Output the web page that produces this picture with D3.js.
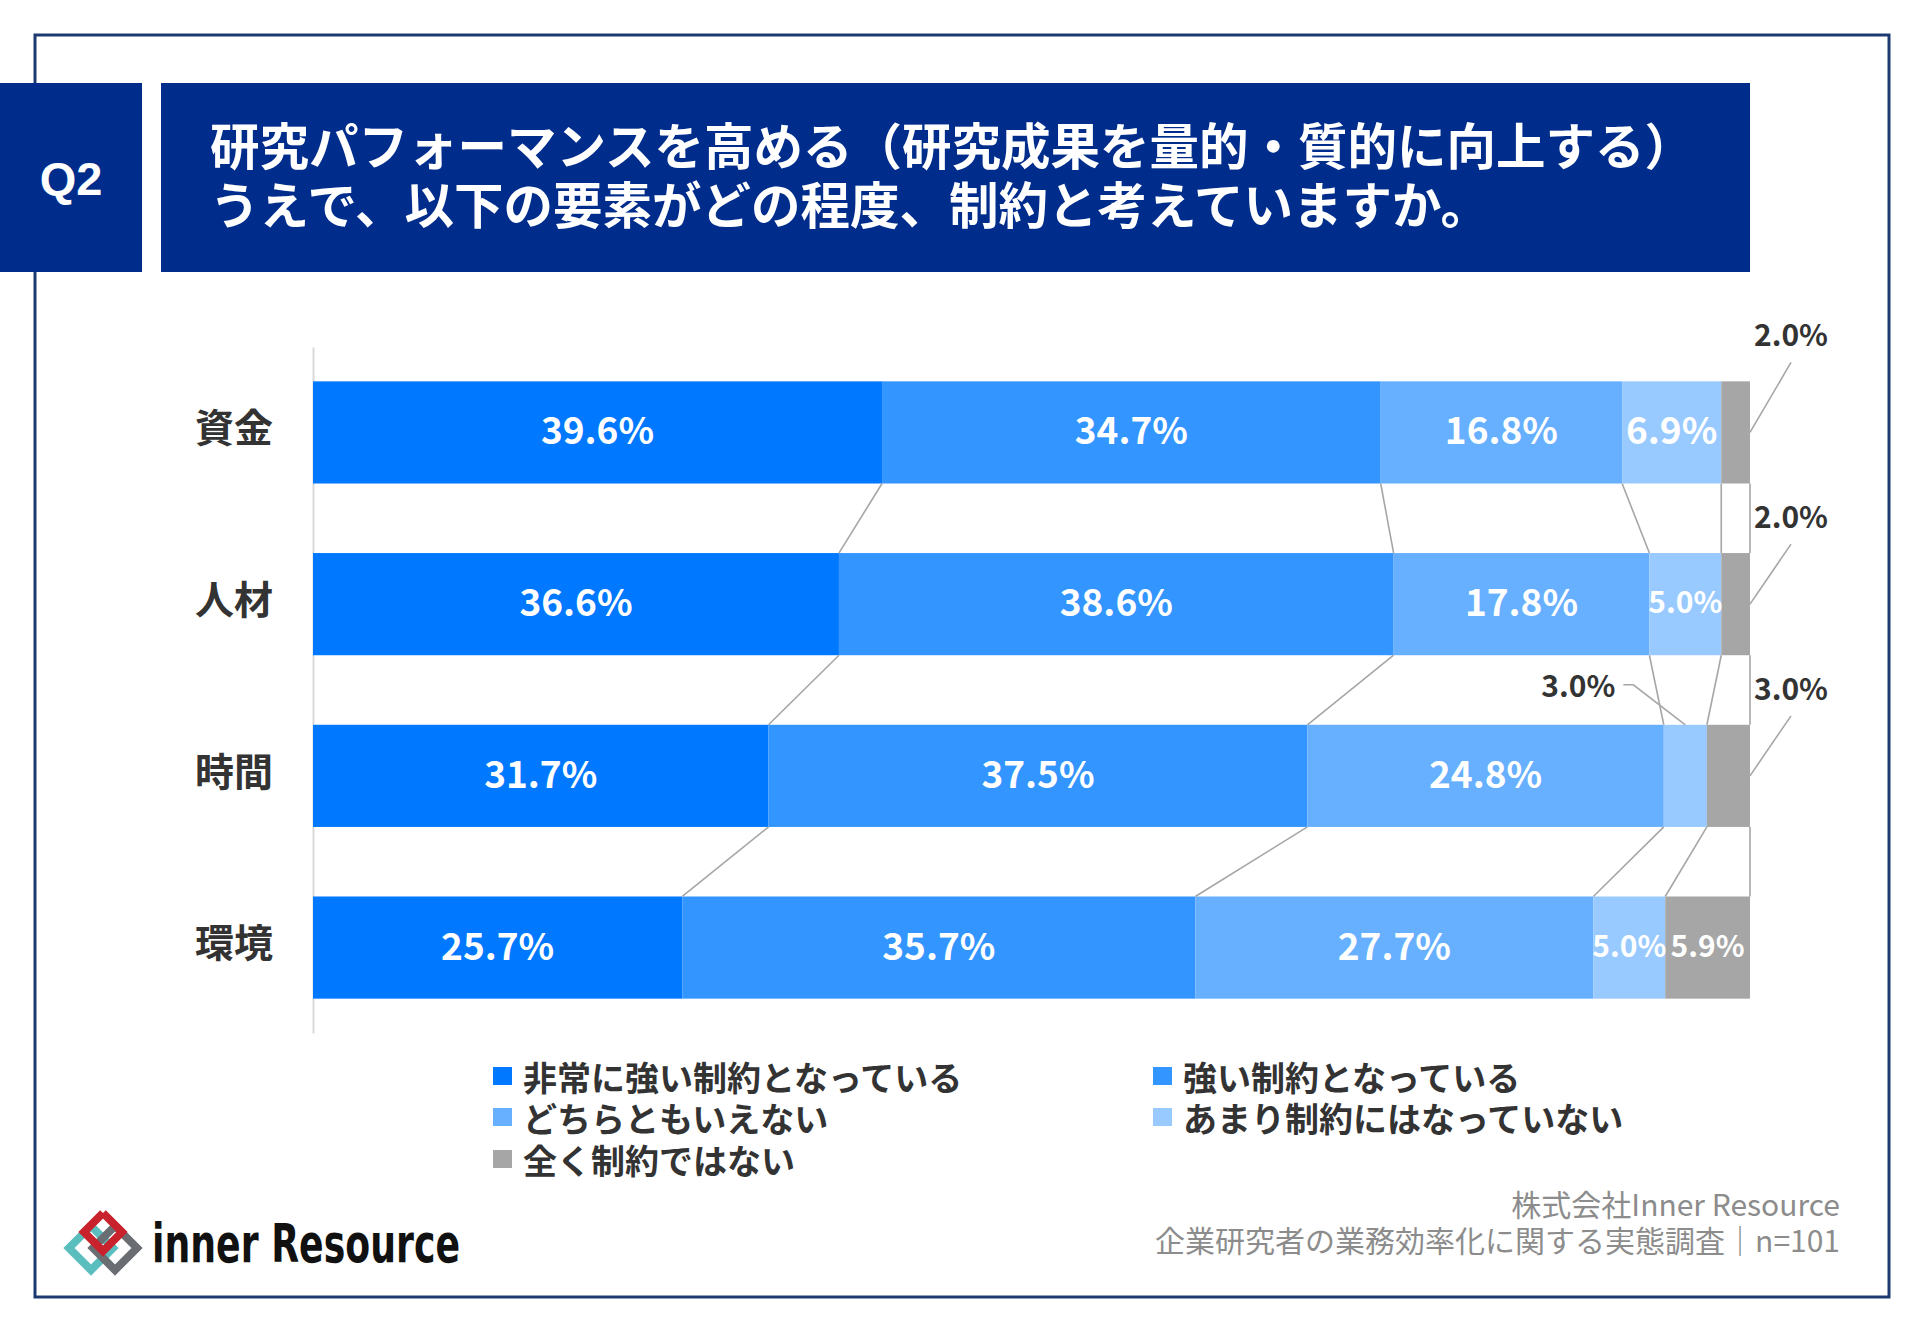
<!DOCTYPE html>
<html>
<head>
<meta charset="utf-8">
<script src="https://cdn.jsdelivr.net/npm/d3@7"></script>
<style>
  html, body { margin: 0; padding: 0; background: #fff; }
  svg { display: block; }
  text { font-family: "Noto Sans CJK JP", "Noto Sans", sans-serif; }
</style>
</head>
<body>
<script>
// DATA

const categories = ['資金', '人材', '時間', '環境']
const seriesNames = [
    '非常に強い制約となっている',
    '強い制約となっている',
    'どちらともいえない',
    'あまり制約にはなっていない',
    '全く制約ではない'
]
const valsVeryStrong = [39.6, 36.6, 31.7, 25.7]
const valsStrong = [34.7, 38.6, 37.5, 35.7]
const valsNeutral = [16.8, 17.8, 24.8, 27.7]
const valsNotMuch = [6.9, 5.0, 3.0, 5.0]
const valsNone = [2.0, 2.0, 3.0, 5.9]

const titleLines = [
    '研究パフォーマンスを高める（研究成果を量的・質的に向上する）',
    'うえで、以下の要素がどの程度、制約と考えていますか。'
]
const footerLines = ['株式会社Inner Resource', '企業研究者の業務効率化に関する実態調査｜n=101']

const colors = ['#0078FF', '#3395FF', '#66B0FF', '#99CAFF', '#A6A6A6']

// rows in a table for d3.stack
const table = categories.map((c, i) => ({
    cat: c,
    s0: valsVeryStrong[i],
    s1: valsStrong[i],
    s2: valsNeutral[i],
    s3: valsNotMuch[i],
    s4: valsNone[i]
}))
const keys = ['s0', 's1', 's2', 's3', 's4']
const stacked = d3.stack().keys(keys)(table)

// which labels go outside the bar, with a leader line (lift = how far above bar centre)
const outside = [
    { cat: '資金', k: 4, side: 'right', lift: 99 },
    { cat: '人材', k: 4, side: 'right', lift: 89 },
    { cat: '時間', k: 4, side: 'right', lift: 89 },
    { cat: '時間', k: 3, side: 'left', lift: 0 }
]

// SVG AND SCALES

const W = 1920, H = 1329
const svg = d3.select('body').append('svg').attr('width', W).attr('height', H)
svg.append('rect').attr('width', W).attr('height', H).attr('fill', '#fff')

// frame
svg.append('rect')
    .attr('x', 35).attr('y', 35)
    .attr('width', 1854).attr('height', 1262)
    .attr('fill', 'none')
    .attr('stroke', '#1C3A70')
    .attr('stroke-width', 3)

// header boxes
svg.append('rect').attr('x', 0).attr('y', 83).attr('width', 142).attr('height', 189).attr('fill', '#002D8C')
svg.append('text')
    .attr('x', 71).attr('y', 178)
    .attr('text-anchor', 'middle')
    .attr('dominant-baseline', 'central')
    .attr('fill', '#fff')
    .style('font-family', '"Liberation Sans", Arial, sans-serif')
    .style('font-weight', 700)
    .style('font-size', '47px')
    .text('Q2')

svg.append('rect').attr('x', 161).attr('y', 83).attr('width', 1589).attr('height', 189).attr('fill', '#002D8C')
svg.selectAll('.title-line')
    .data(titleLines)
    .join('text')
    .attr('class', 'title-line')
    .attr('x', 210)
    .attr('y', (d, i) => 143 + i * 59)
    .attr('dominant-baseline', 'central')
    .attr('fill', '#fff')
    .style('font-weight', 700)
    .style('font-size', '49.5px')
    .text(d => d)

const x = d3.scaleLinear().domain([0, 100]).range([313, 1750])
const y = d3.scaleBand()
    .domain(categories)
    .range([347, 1033])
    .paddingInner(0.405)
    .paddingOuter(0.2)
const bw = y.bandwidth()

// category axis
const yAxis = svg.append('g')
    .attr('transform', `translate(${x(0)},0)`)
    .call(d3.axisLeft(y).tickSize(0).tickSizeOuter(0).tickPadding(40))
yAxis.select('.domain').attr('stroke', '#D9D9D9').attr('stroke-width', 2)
yAxis.selectAll('text')
    .attr('dy', '0.25em')
    .attr('fill', '#333')
    .style('font-family', '"Noto Sans CJK JP", sans-serif')
    .style('font-weight', 700)
    .style('font-size', '39px')

// BARS

const layers = svg.selectAll('.layer')
    .data(stacked)
    .join('g')
    .attr('class', 'layer')
    .attr('fill', (d, k) => colors[k])

layers.selectAll('rect')
    .data(d => d)
    .join('rect')
    .attr('x', d => x(d[0]))
    .attr('y', d => y(d.data.cat))
    .attr('width', d => x(d[1]) - x(d[0]))
    .attr('height', bw)

// series lines between bars (from one bar's bottom to the next bar's top)
const seriesLines = []
stacked.forEach(layer => {
    for (let i = 0; i < layer.length - 1; i++) {
        seriesLines.push({
            x1: x(layer[i][1]), y1: y(layer[i].data.cat) + bw,
            x2: x(layer[i + 1][1]), y2: y(layer[i + 1].data.cat)
        })
    }
})
svg.selectAll('.series-line')
    .data(seriesLines)
    .join('line')
    .attr('class', 'series-line')
    .attr('x1', d => d.x1).attr('y1', d => d.y1)
    .attr('x2', d => d.x2).attr('y2', d => d.y2)
    .attr('stroke', '#A6A6A6')
    .attr('stroke-width', 1.6)

// value labels inside the bars
const isOutside = (cat, k) => outside.some(o => o.cat === cat && o.k === k)
const insideLabels = []
stacked.forEach((layer, k) => {
    layer.forEach(d => {
        if (!isOutside(d.data.cat, k)) insideLabels.push({ d, k })
    })
})
svg.selectAll('.val-label')
    .data(insideLabels)
    .join('text')
    .attr('class', 'val-label')
    .attr('x', e => (x(e.d[0]) + x(e.d[1])) / 2)
    .attr('y', e => y(e.d.data.cat) + bw / 2 - 4)
    .attr('text-anchor', 'middle')
    .attr('dominant-baseline', 'central')
    .attr('fill', '#fff')
    .style('font-weight', 700)
    .style('font-size', e => (x(e.d[1]) - x(e.d[0]) < 90 ? 30 : 37) + 'px')
    .text(e => (e.d[1] - e.d[0]).toFixed(1) + '%')

// outside labels with leader lines
const calloutData = outside.map(o => {
    const i = categories.indexOf(o.cat)
    const d = stacked[o.k][i]
    const top = y(o.cat)
    const mid = top + bw / 2
    if (o.side === 'right') {
        const ex = x(d[1])
        return {
            text: (d[1] - d[0]).toFixed(1) + '%',
            tx: ex + 41, ty: mid - o.lift, anchor: 'middle',
            pts: [[ex + 41, mid - o.lift + 29], [ex, mid]]
        }
    } else {
        const ex = (x(d[0]) + x(d[1])) / 2
        return {
            text: (d[1] - d[0]).toFixed(1) + '%',
            tx: ex - 70, ty: top - 41, anchor: 'end',
            pts: [[ex - 62, top - 40], [ex - 52, top - 40], [ex, top]]
        }
    }
})
const leader = d3.line()
svg.selectAll('.leader')
    .data(calloutData)
    .join('path')
    .attr('class', 'leader')
    .attr('d', d => leader(d.pts))
    .attr('fill', 'none')
    .attr('stroke', '#A6A6A6')
    .attr('stroke-width', 1.6)
svg.selectAll('.out-label')
    .data(calloutData)
    .join('text')
    .attr('class', 'out-label')
    .attr('x', d => d.tx)
    .attr('y', d => d.ty)
    .attr('text-anchor', d => d.anchor)
    .attr('dominant-baseline', 'central')
    .attr('fill', '#333')
    .style('font-weight', 700)
    .style('font-size', '30px')
    .text(d => d.text)

// LEGEND

const legendCols = [493, 1153]
const legendRows = [1076, 1117, 1159]
const legend = svg.selectAll('.legend-item')
    .data(seriesNames)
    .join('g')
    .attr('class', 'legend-item')
    .attr('transform', (d, j) => `translate(${legendCols[j % 2]},${legendRows[Math.floor(j / 2)]})`)
legend.append('rect')
    .attr('x', 0).attr('y', -9)
    .attr('width', 19).attr('height', 18)
    .attr('fill', (d, j) => colors[j])
legend.append('text')
    .attr('x', 30).attr('y', 0)
    .attr('dominant-baseline', 'central')
    .attr('fill', '#333')
    .style('font-weight', 700)
    .style('font-size', '34px')
    .text(d => d)

// FOOTER

svg.selectAll('.footer')
    .data(footerLines)
    .join('text')
    .attr('class', 'footer')
    .attr('x', 1840)
    .attr('y', (d, i) => 1203 + i * 36)
    .attr('text-anchor', 'end')
    .attr('dominant-baseline', 'central')
    .attr('fill', '#8C8C8C')
    .style('font-weight', 400)
    .style('font-size', '30px')
    .text(d => d)

// logo: three interlocked diamonds + wordmark
const logo = svg.append('g')
const diamond = (cx, cy, r) => [[cx, cy - r], [cx + r, cy], [cx, cy + r], [cx - r, cy], [cx, cy - r]]
logo.append('path').attr('d', leader(diamond(91, 1248, 22))).attr('fill', 'none').attr('stroke', '#5BBEBE').attr('stroke-width', 8)
logo.append('path').attr('d', leader(diamond(115, 1248, 22))).attr('fill', 'none').attr('stroke', '#6A6E72').attr('stroke-width', 8)
logo.append('path').attr('d', leader(diamond(103, 1232, 19))).attr('fill', 'none').attr('stroke', '#C8232C').attr('stroke-width', 8)
logo.append('text')
    .attr('x', 152).attr('y', 1262)
    .attr('textLength', 308)
    .attr('lengthAdjust', 'spacingAndGlyphs')
    .attr('fill', '#111')
    .style('font-family', '"DejaVu Sans Condensed", "DejaVu Sans", sans-serif')
    .style('font-weight', 700)
    .style('font-size', '54px')
    .text('inner Resource')
</script>
</body>
</html>
